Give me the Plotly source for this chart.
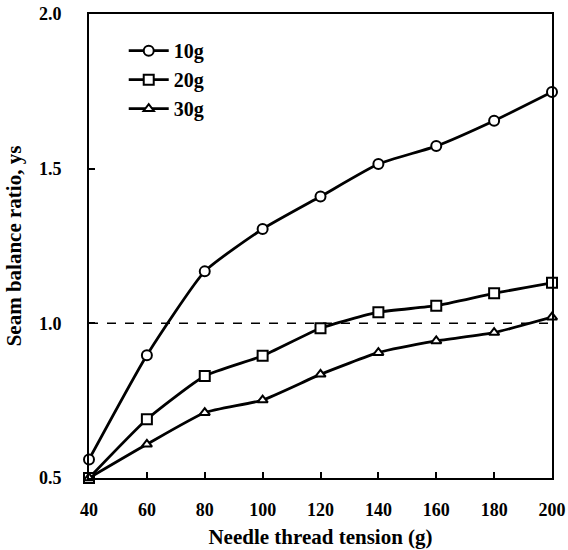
import plotly.graph_objects as go

tension = [40, 60, 80, 100, 120, 140, 160, 180, 200]
ys_10g = [0.56, 0.897, 1.168, 1.305, 1.41, 1.515, 1.573, 1.655, 1.748]
ys_20g = [0.50, 0.69, 0.83, 0.895, 0.984, 1.036, 1.057, 1.097, 1.131]
ys_30g = [0.50, 0.609, 0.711, 0.752, 0.835, 0.905, 0.943, 0.97, 1.02]
series_names = ["10g", "20g", "30g"]
reference_level = 1.0
x_ticks = [40, 60, 80, 100, 120, 140, 160, 180, 200]
y_ticks = [0.5, 1.0, 1.5, 2.0]

FONT = "Liberation Serif"
symbols = ["circle", "square", "triangle-up"]
sizes = [10, 10, 9]

fig = go.Figure()
for name, ys, sym, sz in zip(series_names, [ys_10g, ys_20g, ys_30g], symbols, sizes):
    fig.add_trace(go.Scatter(
        x=tension, y=ys, name=name, mode="lines+markers",
        line=dict(color="black", width=2.8, shape="spline", smoothing=0.5),
        marker=dict(symbol=sym, size=sz, color="white", line=dict(width=2, color="black")),
        cliponaxis=False,
    ))

fig.add_hline(y=reference_level, line=dict(color="black", width=1.5, dash="dash"), layer="below")

fig.update_layout(
    width=568, height=550,
    margin=dict(l=89, r=16, t=14, b=72),
    paper_bgcolor="white", plot_bgcolor="white",
    font=dict(family=FONT, color="black", size=18, weight="bold"),
    showlegend=True,
    legend=dict(
        x=0.075, y=0.963, xanchor="left", yanchor="top",
        bgcolor="rgba(0,0,0,0)", borderwidth=0,
        font=dict(family=FONT, size=20, weight="bold", color="black"),
        itemwidth=40, tracegroupgap=0,
    ),
    xaxis=dict(
        range=[40, 200], tickvals=x_ticks, ticks="inside", ticklen=6, tickwidth=1.5,
        tickcolor="black", showline=True, linecolor="black", linewidth=2, mirror=True,
        showgrid=False, zeroline=False, ticklabelstandoff=14, automargin=False,
        tickfont=dict(family=FONT, size=18, weight="bold"),
        title=dict(text="Needle thread tension (g)", standoff=11,
                   font=dict(family=FONT, size=21, weight="bold")),
    ),
    yaxis=dict(
        range=[0.5, 2.0], tickvals=y_ticks, tickformat=".1f", ticks="inside", ticklen=6,
        tickwidth=1.5, tickcolor="black", showline=True, linecolor="black", linewidth=2,
        mirror=True, showgrid=False, zeroline=False, ticklabelstandoff=22, automargin=False,
        tickfont=dict(family=FONT, size=18, weight="bold"),
        title=dict(text="Seam balance ratio, ys", standoff=12,
                   font=dict(family=FONT, size=21, weight="bold")),
    ),
)

fig.write_html("out.html")
